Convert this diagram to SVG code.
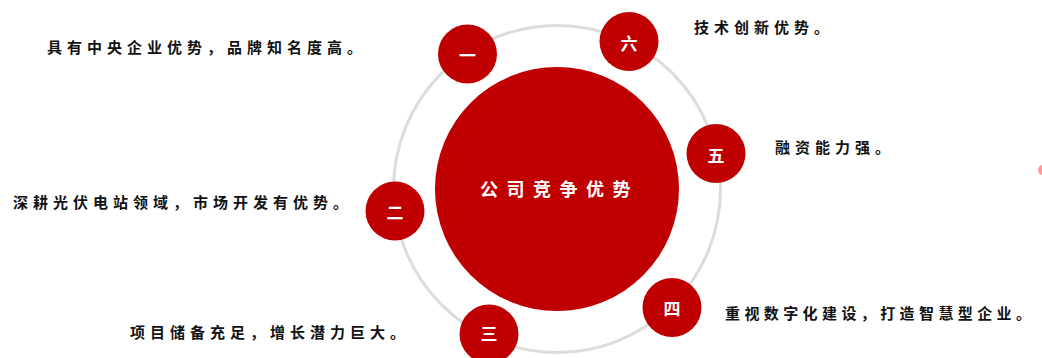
<svg xmlns="http://www.w3.org/2000/svg" width="1042" height="358" viewBox="0 0 1042 358">
<style>
.lbl{font-family:"Noto Sans CJK SC","Noto Sans",sans-serif;font-size:15px;font-weight:700;fill:#111;letter-spacing:5px}
.num{font-family:"Noto Sans CJK SC","Noto Sans",sans-serif;font-size:17px;font-weight:700;fill:#fff;text-anchor:middle;dominant-baseline:central}
.dot{fill:#c00000}
.ctr{font-family:"Noto Sans CJK SC","Noto Sans",sans-serif;font-size:18px;font-weight:700;fill:#fff;letter-spacing:8.5px}
</style>
<rect width="1042" height="358" fill="#fff"/>
<g id="connectors">
<circle cx="557" cy="189" r="163.5" fill="none" stroke="#dcdcdc" stroke-width="3"/>
</g>
<g id="center">
<circle cx="557" cy="189" r="122" class="dot"/>
<text x="480" y="196" class="ctr">公司竞争优势</text>
</g>
<g id="n1">
<circle cx="467.5" cy="54" r="29.5" class="dot"/>
<text x="467.5" y="54" class="num">一</text>
<text x="47" y="53" class="lbl">具有中央企业优势，品牌知名度高。</text>
</g>
<g id="n2">
<circle cx="395" cy="211" r="29.5" class="dot"/>
<text x="395" y="211" class="num">二</text>
<text x="13" y="208" class="lbl">深耕光伏电站领域，市场开发有优势。</text>
</g>
<g id="n3">
<circle cx="489" cy="334" r="29.5" class="dot"/>
<text x="489" y="332" class="num">三</text>
<text x="130" y="338" class="lbl">项目储备充足，增长潜力巨大。</text>
</g>
<g id="n4">
<circle cx="672" cy="307.5" r="29.5" class="dot"/>
<text x="672" y="307" class="num">四</text>
<text x="725" y="319" class="lbl" style="letter-spacing:4.4px">重视数字化建设，打造智慧型企业。</text>
</g>
<g id="n5">
<circle cx="716" cy="153.5" r="29.5" class="dot"/>
<text x="716" y="154" class="num">五</text>
<text x="775" y="153" class="lbl">融资能力强。</text>
</g>
<g id="n6">
<circle cx="629" cy="41.5" r="29.5" class="dot"/>
<text x="629" y="42" class="num">六</text>
<text x="694" y="33" class="lbl">技术创新优势。</text>
</g>
<circle cx="1043" cy="170" r="5" fill="#ff9a9a"/>
</svg>
